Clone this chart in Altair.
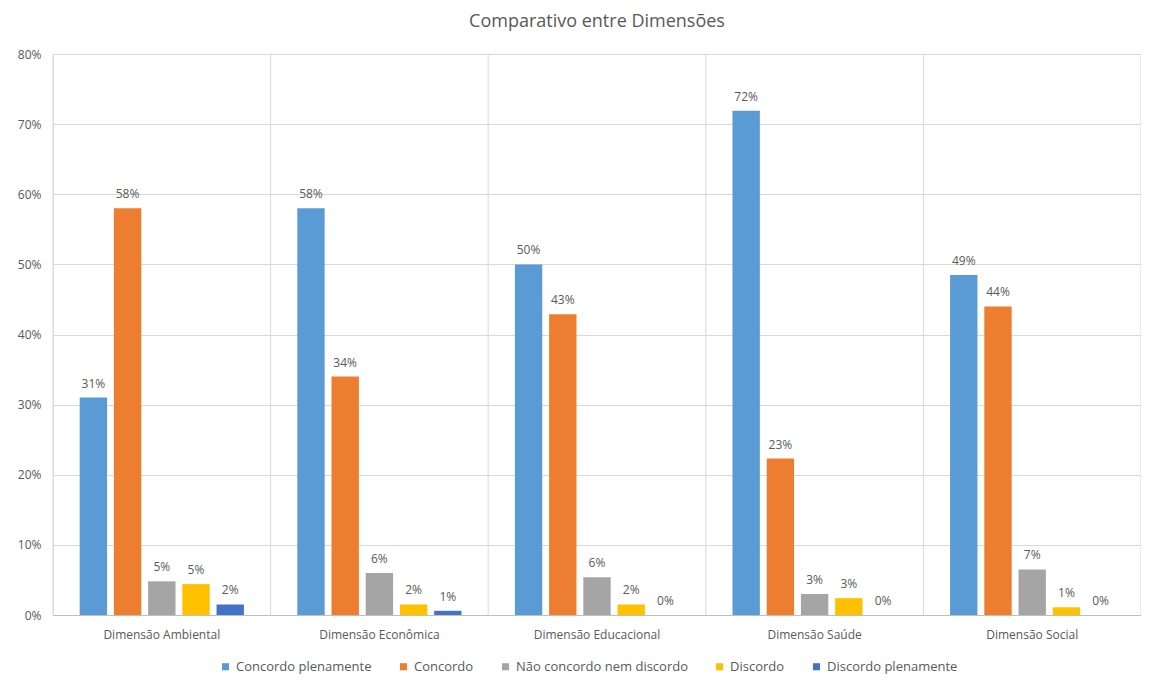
import altair as alt
import pandas as pd

dimensions = ["Dimensão Ambiental", "Dimensão Econômica", "Dimensão Educacional",
              "Dimensão Saúde", "Dimensão Social"]
series = ["Concordo plenamente", "Concordo", "Não concordo nem discordo",
          "Discordo", "Discordo plenamente"]
colors = ["#5B9BD5", "#ED7D31", "#A5A5A5", "#FFC000", "#4472C4"]

# values per series, in the order of `dimensions`
concordo_plenamente = [0.310, 0.580, 0.500, 0.719, 0.485]
concordo = [0.580, 0.340, 0.429, 0.223, 0.440]
nao_concordo_nem_discordo = [0.048, 0.060, 0.054, 0.030, 0.065]
discordo = [0.044, 0.015, 0.015, 0.024, 0.011]
discordo_plenamente = [0.015, 0.006, 0.000, 0.000, 0.000]

# data labels as printed on the chart
lab_concordo_plenamente = ["31%", "58%", "50%", "72%", "49%"]
lab_concordo = ["58%", "34%", "43%", "23%", "44%"]
lab_nao_concordo = ["5%", "6%", "6%", "3%", "7%"]
lab_discordo = ["5%", "2%", "2%", "3%", "1%"]
lab_discordo_plenamente = ["2%", "1%", "0%", "0%", "0%"]

values = [concordo_plenamente, concordo, nao_concordo_nem_discordo, discordo, discordo_plenamente]
labels = [lab_concordo_plenamente, lab_concordo, lab_nao_concordo, lab_discordo, lab_discordo_plenamente]

rows = []
for s, vals, labs in zip(series, values, labels):
    for d, v, l in zip(dimensions, vals, labs):
        rows.append({"dim": d, "serie": s, "valor": v, "rotulo": l})
df = pd.DataFrame(rows)

edges = pd.DataFrame({"dim": dimensions})

W, H = 1088, 561
FONT = "Open Sans"
TXT = "#595959"


def xscale():
    return alt.Scale(domain=dimensions, paddingInner=0, paddingOuter=0)


yscale = alt.Scale(domain=[0, 0.8])
xoff = alt.XOffset("serie:N", sort=series,
                   scale=alt.Scale(domain=series, paddingInner=0.2, paddingOuter=0.78))

x_enc = alt.X("dim:N", sort=dimensions, scale=xscale(),
              axis=alt.Axis(title=None, labelAngle=0, ticks=False, grid=False,
                            domainColor="#BFBFBF", labelColor=TXT, labelFont=FONT,
                            labelFontSize=12, labelPadding=14))

bars = alt.Chart(df).mark_bar().encode(
    x=x_enc,
    xOffset=xoff,
    y=alt.Y("valor:Q", scale=yscale,
            axis=alt.Axis(title=None, format=".0%", values=[i / 10 for i in range(9)],
                          domain=False, ticks=False, gridColor="#D9D9D9",
                          labelColor=TXT, labelFont=FONT, labelFontSize=12,
                          labelPadding=12)),
    color=alt.Color("serie:N", sort=series,
                    scale=alt.Scale(domain=series, range=colors),
                    legend=alt.Legend(title=None, orient="none", direction="horizontal",
                                      legendX=166, legendY=H + 45,
                                      symbolType="square", symbolSize=50,
                                      labelFont=FONT, labelFontSize=13, labelColor=TXT,
                                      labelLimit=400,
                                      columnPadding=25, symbolStrokeWidth=0)),
)

text = alt.Chart(df).mark_text(baseline="bottom", dy=-7, font=FONT, fontSize=12,
                               color=TXT).encode(
    x=alt.X("dim:N", sort=dimensions, scale=xscale(), axis=None),
    xOffset=xoff,
    y=alt.Y("valor:Q", scale=yscale),
    text="rotulo:N",
)

sep_start = alt.Chart(edges).mark_rule(color="#D9D9D9", strokeWidth=1).encode(
    x=alt.X("dim:N", sort=dimensions, scale=xscale(), bandPosition=0, axis=None),
)
sep_end = alt.Chart(edges.tail(1)).mark_rule(color="#D9D9D9", strokeWidth=1).encode(
    x=alt.X("dim:N", sort=dimensions, scale=xscale(), bandPosition=1, axis=None),
)

chart = alt.layer(sep_start, sep_end, bars, text).resolve_scale(
    x="independent"
).properties(
    width=W, height=H,
    title=alt.Title("Comparativo entre Dimensões", font=FONT, fontSize=18,
                    fontWeight="normal", color=TXT, offset=17),
    autosize=alt.AutoSizeParams(type="none"),
    padding={"left": 45, "top": 46, "right": 0, "bottom": 60},
).configure_view(stroke=None).configure(background="white")

chart.save("out.html", embed_options={"renderer": "svg", "actions": False})
